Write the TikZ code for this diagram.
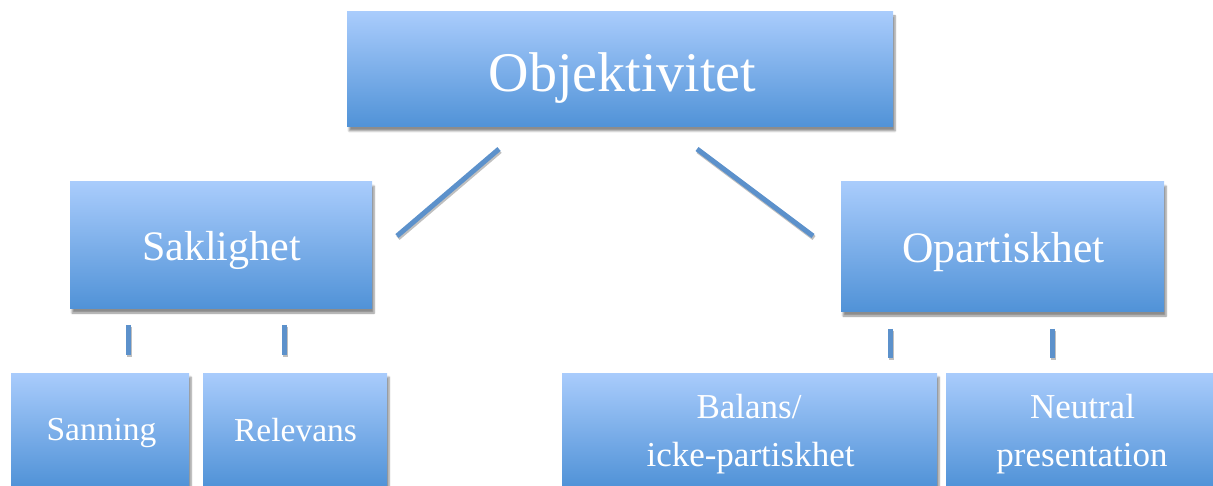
\documentclass[tikz,border=0pt]{standalone}
\usepackage{fontspec}
\setmainfont{Liberation Serif}
\usetikzlibrary{shadows.blur}
\definecolor{boxtop}{RGB}{169,204,252}
\definecolor{boxbot}{RGB}{80,146,215}
\definecolor{linkcol}{RGB}{92,145,203}
\tikzset{
  box/.style={rectangle, inner sep=0pt, top color=boxtop, bottom color=boxbot,
    blur shadow={shadow xshift=2pt, shadow yshift=-4pt, shadow blur steps=6, shadow opacity=45}},
  txt/.style={inner sep=0pt, anchor=base, text=white},
  link/.style={draw=linkcol, line width=5pt,
    preaction={draw=black!25, line width=5pt, transform canvas={xshift=1pt, yshift=-2pt}}},
}
\begin{document}
\begin{tikzpicture}[x=1pt, y=-1pt]
\useasboundingbox (0,0) rectangle (1213,486);
% boxes
\node[box, minimum width=546pt, minimum height=115pt] (obj) at (620,69.5) {};
\node[box, minimum width=302pt, minimum height=127pt] (sak) at (221,245.5) {};
\node[box, minimum width=323pt, minimum height=130pt] (opa) at (1002.5,247) {};
\node[box, minimum width=178pt, minimum height=114pt] (san) at (100,430) {};
\node[box, minimum width=184pt, minimum height=114pt] (rel) at (295,430) {};
\node[box, minimum width=375pt, minimum height=114pt] (bal) at (749.5,430) {};
\node[box, minimum width=274pt, minimum height=114pt] (neu) at (1083,430) {};
% texts
\node[txt, font=\fontsize{56}{60}\selectfont] (objt) at (622.5,92) {Objektivitet};
\node[txt, font=\fontsize{42}{46}\selectfont] (sakt) at (221.5,261) {Saklighet};
\node[txt, font=\fontsize{43.5}{46}\selectfont] (opat) at (1003.5,263) {Opartiskhet};
\node[txt, font=\fontsize{33.5}{40}\selectfont] (sant) at (101.5,440) {Sanning};
\node[txt, font=\fontsize{33.5}{40}\selectfont] (relt) at (295.5,441) {Relevans};
\node[txt, font=\fontsize{35}{40}\selectfont] (balt1) at (749,418) {Balans/};
\node[txt, font=\fontsize{35}{40}\selectfont] (balt2) at (750.5,466.5) {icke-partiskhet};
\node[txt, font=\fontsize{35}{40}\selectfont] (neut1) at (1082.5,418) {Neutral};
\node[txt, font=\fontsize{35}{40}\selectfont] (neut2) at (1082,466) {presentation};
% connector end points (lines do not touch the boxes)
\coordinate (c1a) at (397,236); \coordinate (c1b) at (499,149);
\coordinate (c2a) at (697,149); \coordinate (c2b) at (813,236);
\coordinate (c3a) at (128,325); \coordinate (c3b) at (128,355);
\coordinate (c4a) at (284,325); \coordinate (c4b) at (284,355);
\coordinate (c5a) at (890,329); \coordinate (c5b) at (890,358);
\coordinate (c6a) at (1052,329); \coordinate (c6b) at (1052,358);
\draw[link] (c1a) -- (c1b);
\draw[link] (c2a) -- (c2b);
\draw[link] (c3a) -- (c3b);
\draw[link] (c4a) -- (c4b);
\draw[link] (c5a) -- (c5b);
\draw[link] (c6a) -- (c6b);
\end{tikzpicture}
\end{document}
